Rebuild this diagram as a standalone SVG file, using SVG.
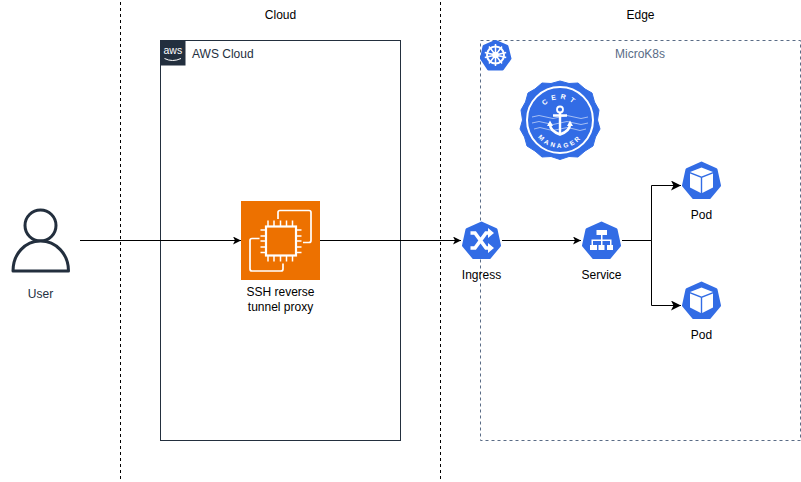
<svg xmlns="http://www.w3.org/2000/svg" width="801" height="482" viewBox="0 0 801 482">
<style>
text{font-family:"Liberation Sans",Arial,sans-serif;font-size:12px;fill:#000;text-anchor:middle}
.lane{fill:none;stroke:#000;stroke-dasharray:3 3}
.conn{fill:none;stroke:#000}
.hept{fill:#326ce5;stroke:#326ce5;stroke-width:3;stroke-linejoin:round}
.wl{fill:none;stroke:#fff;stroke-width:1.6}
.ws{fill:#fff}
</style>
<defs>
<marker id="arr" markerUnits="userSpaceOnUse" markerWidth="9" markerHeight="8" refX="8" refY="4" orient="auto"><path d="M0 0L8 4L0 8L2 4Z" fill="#000"/></marker>
<marker id="arrb" markerUnits="userSpaceOnUse" markerWidth="11" markerHeight="10" refX="10" refY="5" orient="auto"><path d="M0 0L10 5L0 10L2.500 5Z" fill="#000"/></marker>
<polygon id="hept" class="hept" points="0,-17.500 14.500,-11 18,5 8,17 -8,17 -18,5 -14.500,-11"/>
<g id="podIcon">
<use href="#hept"/>
<path d="M0 -13L11.500 -8.500L0 -4L-11.500 -8.500Z" fill="#fff"/>
<path d="M-11.500 -7L-.7 -2.700V12.500L-11.500 7ZM11.500 -7L.7 -2.700V12.500L11.500 7Z" fill="#fff"/>
</g>
</defs>
<path class="lane" d="M120.500 2V481"/>
<path class="lane" d="M440.500 2V481"/>
<text x="280.500" y="19">Cloud</text>
<text x="640.500" y="19">Edge</text>
<g id="aws-cloud">
<rect x="160.500" y="40.500" width="240" height="400" fill="#fff" stroke="#232f3e"/>
<rect x="160" y="40" width="25.500" height="25.500" fill="#232f3e"/>
<text x="172.800" y="54" style="font-size:10.500px;fill:#fff;font-weight:400">aws</text>
<path d="M164.500 58.500Q172.500 62.500 181 58.500" fill="none" stroke="#fff" stroke-width="1"/>
<text x="192" y="58" style="text-anchor:start;fill:#232f3e">AWS Cloud</text>
</g>
<g id="microk8s">
<rect x="480.500" y="40.500" width="320" height="400" fill="#fff" stroke="#5a6c86" stroke-dasharray="3 3"/>
<text x="640" y="58" style="fill:#5a6c86">MicroK8s</text>
</g>
<g id="k8s-logo">
<polygon class="hept" points="495.500,41.500 507,46.500 510,58.500 502.500,69 488.500,69 481.500,58.500 484,46.500"/>
<circle cx="495.500" cy="55" r="8.500" class="wl" style="stroke-width:2"/>
<circle cx="495.500" cy="55" r="2.500" class="wl"/>
<path class="wl" style="stroke-width:1.500" d="M495.500 44V66M484.800 52.600L506.200 57.400M489 46.500L502 63.500M502 46.500L489 63.500M484.800 57.400L506.200 52.600"/>
</g>
<g id="cert-manager">
<path d="M560 81L569 83.500L578 83L585 89L592 93L594.500 102L599 110L597.500 120L600 129L595.500 137L593 146L585 151L578 157L569 156.500L560 159.500L551 156.500L542 157L535 151L527 146L524.500 137L520 129L522.500 120L521 110L525.500 102L528 93L535 89L542 83L551 83.500Z" fill="#326ce5" stroke="#326ce5" stroke-linejoin="round"/>
<circle cx="560" cy="120" r="33" fill="none" stroke="#fff" stroke-width="2"/>
<defs>
<path id="arcTop" d="M539 120A21 21 0 0 1 581 120"/>
<path id="arcBot" d="M532 120A28 28 0 0 0 588 120"/>
</defs>
<text style="font-size:7px;font-weight:700;fill:#fff;letter-spacing:4px"><textPath href="#arcTop" startOffset="50%">CERT</textPath></text>
<text style="font-size:6.500px;font-weight:700;fill:#fff;letter-spacing:2.400px"><textPath href="#arcBot" startOffset="50%">MANAGER</textPath></text>
<path d="M532 117Q539 114 546 117T560 117T574 117T588 117M532 123Q539 120 546 123T560 123T574 123T588 123M534 129Q540 126 546 129T560 129T574 129T586 129" fill="none" stroke="#fff" stroke-width=".7" opacity=".8"/>
<circle cx="560" cy="109.500" r="3" fill="none" stroke="#fff" stroke-width="1.800"/>
<path d="M560 112V133M553 115.500H567" fill="none" stroke="#fff" stroke-width="2.400"/>
<path d="M550 124Q550 131 560 134.500Q570 131 570 124" fill="none" stroke="#fff" stroke-width="2.600"/>
<path d="M547 126L550 120.500L553 126ZM567 126L570 120.500L573 126Z" fill="#fff"/>
</g>
<g id="connectors">
<path class="conn" marker-end="url(#arr)" d="M80 240.500H241"/>
<path class="conn" marker-end="url(#arr)" d="M320 240.500H461"/>
<path class="conn" marker-end="url(#arr)" d="M502 240.500H581"/>
<path class="conn" marker-end="url(#arrb)" d="M622 240.500H651.500V185.500H681"/>
<path class="conn" marker-end="url(#arrb)" d="M622 240.500H651.500V305.500H681"/>
</g>
<g id="user">
<circle cx="40.500" cy="225.500" r="15.500" fill="#fff" stroke="#232f3e" stroke-width="3"/>
<path d="M13 271H68.500C68.500 254 56 241 40.500 241C25 241 13 254 13 271Z" fill="#fff" stroke="#232f3e" stroke-width="3" stroke-linejoin="round"/>
<text x="40.500" y="298" style="fill:#232f3e">User</text>
</g>
<g id="ssh-proxy">
<rect x="241" y="201" width="79" height="79" fill="#ed7100"/>
<rect x="266" y="226.500" width="30" height="29" fill="none" stroke="#fff" stroke-width="2.200"/>
<path d="M268 220.500V226M274 220.500V226M280.500 220.500V226M286.500 220.500V226M292.500 220.500V226M268 256V261.500M274 256V261.500M280.500 256V261.500M286.500 256V261.500M292.500 256V261.500M260.500 230H266M260.500 236H266M260.500 241H266M260.500 247H266M260.500 252.500H266M296 230H301.500M296 236H301.500M296 241H301.500M296 247H301.500M296 252.500H301.500" fill="none" stroke="#fff" stroke-width="1.500"/>
<path d="M278 219V212.500Q278 210.500 280 210.500H309Q311 210.500 311 212.500V240.500Q311 242.500 309 242.500H303" fill="none" stroke="#fff" stroke-width="1.700"/>
<path d="M259.500 238.500H252Q250 238.500 250 240.500V269Q250 271 252 271H281Q283 271 283 269V263.500" fill="none" stroke="#fff" stroke-width="1.700"/>
<text x="280.500" y="296">SSH reverse</text>
<text x="280.500" y="311">tunnel proxy</text>
</g>
<g id="ingress">
<use href="#hept" x="481.500" y="240.500"/>
<path d="M470.500 233H475L486 248H489M470.500 248H475L486 233H489" fill="none" stroke="#fff" stroke-width="3.600"/>
<path d="M488 228L494 233L488 238ZM488 243L494 248L488 253Z" fill="#fff"/>
<text x="481.500" y="279">Ingress</text>
</g>
<g id="service">
<use href="#hept" x="601.500" y="240.500"/>
<path class="ws" d="M596.500 230H607V235H602.500V239.500H611.500V245H610V241H602.500V245H601V241H593V245H591.500V239.500H601V235H596.500ZM590 245H597V250H590ZM598.500 245H604.500V250H598.500ZM607 245H613V250H607Z"/>
<text x="601.500" y="279">Service</text>
</g>
<g id="pod-1">
<use href="#podIcon" x="701.500" y="180.500"/>
<text x="701.500" y="219">Pod</text>
</g>
<g id="pod-2">
<use href="#podIcon" x="701.500" y="300.500"/>
<text x="701.500" y="339">Pod</text>
</g>
</svg>
